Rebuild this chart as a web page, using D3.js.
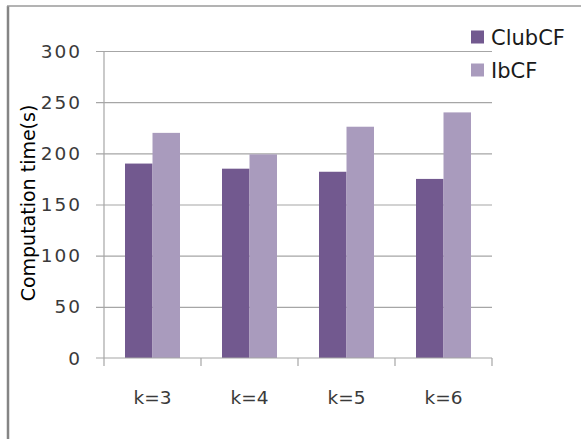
<!DOCTYPE html>
<html>
<head>
<meta charset="utf-8">
<script src="https://cdn.jsdelivr.net/npm/d3@7"></script>
<style>
  html, body { margin: 0; padding: 0; background: #fff; }
  svg { display: block; }
  text { font-family: "DejaVu Sans", sans-serif; }
</style>
</head>
<body>
<script>
// Computation time of ClubCF vs IbCF for several k
const categories = ["k=3", "k=4", "k=5", "k=6"];
const seriesNames = ["ClubCF", "IbCF"];
const clubCF = [190, 185, 182, 175];
const ibCF = [220, 199, 226, 240];
const yTicks = [0, 50, 100, 150, 200, 250, 300];
const colors = ["#72598f", "#a99bbd"];

const W = 581, H = 439;
const svg = d3.select("body").append("svg").attr("width", W).attr("height", H);

// outer frame (left and top edges)
svg.append("line").attr("x1", 8).attr("x2", 8).attr("y1", 6).attr("y2", H)
  .attr("stroke", "#858585").attr("stroke-width", 2.5);
svg.append("line").attr("x1", 7).attr("x2", W).attr("y1", 6).attr("y2", 6)
  .attr("stroke", "#9a9a9a").attr("stroke-width", 1.5);

const plot = { left: 104, right: 492, top: 51, bottom: 358 };

const y = d3.scaleLinear().domain([0, 300]).range([plot.bottom, plot.top]);
const x = d3.scaleBand().domain(categories).range([plot.left, plot.right])
  .paddingInner(0.433).paddingOuter(0.2165);
const xs = d3.scaleBand().domain(seriesNames).range([0, x.bandwidth()]);

// horizontal gridlines with left tick stubs
const gy = svg.append("g").attr("transform", `translate(${plot.right},0)`)
  .call(d3.axisLeft(y).tickValues(yTicks.filter(v => v > 0))
    .tickSize(plot.right - plot.left + 8).tickFormat(""));
gy.select(".domain").remove();
gy.selectAll(".tick line").attr("stroke", "#a6a6a6").attr("stroke-width", 1.2);

// y tick labels
svg.append("g").selectAll("text").data(yTicks).join("text")
  .attr("x", 82).attr("y", d => y(d)).attr("dy", "0.36em")
  .attr("text-anchor", "end").attr("font-size", 18.5).attr("fill", "#3a3a3a")
  .attr("letter-spacing", 2)
  .text(d => d);

// bars
const groups = svg.append("g").selectAll("g").data(categories).join("g")
  .attr("transform", d => `translate(${x(d)},0)`);
groups.selectAll("rect")
  .data((d, i) => [{ s: seriesNames[0], v: clubCF[i] }, { s: seriesNames[1], v: ibCF[i] }])
  .join("rect")
  .attr("x", d => xs(d.s)).attr("width", xs.bandwidth())
  .attr("y", d => y(d.v)).attr("height", d => y(0) - y(d.v))
  .attr("fill", (d, i) => colors[i]);

// y axis line
svg.append("line").attr("x1", plot.left).attr("x2", plot.left)
  .attr("y1", plot.top).attr("y2", plot.bottom)
  .attr("stroke", "#a6a6a6").attr("stroke-width", 1.2);

// x axis with category boundary ticks
const gx = svg.append("g").attr("transform", `translate(0,${plot.bottom})`);
gx.append("line").attr("x1", plot.left - 8).attr("x2", plot.right)
  .attr("stroke", "#a6a6a6").attr("stroke-width", 1.2);
const bounds = d3.range(categories.length + 1).map(i => plot.left + i * x.step());
gx.selectAll(".bt").data(bounds).join("line").attr("class", "bt")
  .attr("x1", d => d).attr("x2", d => d).attr("y1", 0).attr("y2", 8)
  .attr("stroke", "#a6a6a6").attr("stroke-width", 1.2);
gx.selectAll(".xl").data(categories).join("text").attr("class", "xl")
  .attr("x", d => x(d) + x.bandwidth() / 2).attr("y", 46)
  .attr("text-anchor", "middle").attr("font-size", 18.5).attr("fill", "#3a3a3a")
  .text(d => d);

// y axis title
svg.append("text")
  .attr("transform", "translate(35,203) rotate(-90)")
  .attr("text-anchor", "middle").attr("font-size", 19).attr("fill", "#000")
  .text("Computation time(s)");

// legend
const lg = svg.append("g").selectAll("g").data(seriesNames).join("g")
  .attr("transform", (d, i) => `translate(471,${37 + i * 33})`);
lg.append("rect").attr("x", 0).attr("y", -6.5).attr("width", 13).attr("height", 13)
  .attr("fill", (d, i) => colors[i]);
lg.append("text").attr("x", 20).attr("dy", "0.36em").attr("font-size", 21)
  .attr("fill", "#1a1a1a").text(d => d);
</script>
</body>
</html>
